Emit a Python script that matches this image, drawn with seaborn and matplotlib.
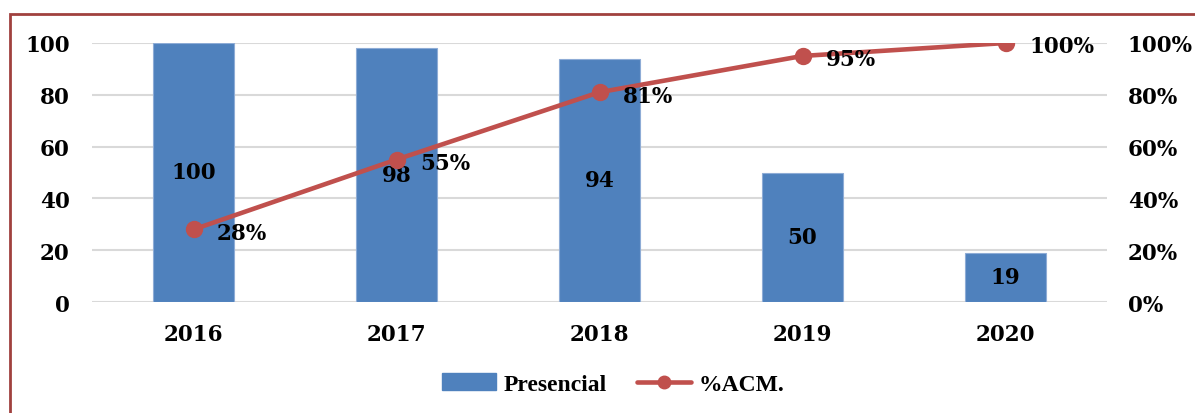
import matplotlib
matplotlib.use("Agg")
import matplotlib.pyplot as plt
import seaborn as sns
import pandas as pd
from matplotlib.patches import Rectangle
from matplotlib.lines import Line2D
from matplotlib.patches import Patch
from matplotlib.ticker import FuncFormatter, MultipleLocator

years = ["2016", "2017", "2018", "2019", "2020"]
presencial = [100, 98, 94, 50, 19]
acm = [0.28, 0.55, 0.81, 0.95, 1.00]
acm_labels = ["28%", "55%", "81%", "95%", "100%"]

df = pd.DataFrame({"year": years, "Presencial": presencial, "acm": acm})

sns.set_theme(style="white")
plt.rcParams["text.color"] = "black"
plt.rcParams["xtick.color"] = "black"
plt.rcParams["ytick.color"] = "black"
num_font = dict(family="DejaVu Serif", weight="bold", size=15.5)

fig = plt.figure(figsize=(11.95, 4.14), dpi=100)
ax = fig.add_axes([92/1195, 1-303/414, (1107-92)/1195, (303-44)/414])

bar_col = "#4F81BD"
line_col = "#C0504D"

sns.barplot(data=df, x="year", y="Presencial", ax=ax, color=bar_col,
            width=0.4, saturation=1, edgecolor="#8EACD6", linewidth=0.8, zorder=2)
ax.set_xlim(-0.5, 4.5)
ax.set_ylim(0, 100)
ax.yaxis.set_major_locator(MultipleLocator(20))
ax.grid(axis="y", color="#D9D9D9", linewidth=1.5, zorder=0)
ax.set_axisbelow(True)
for s in ax.spines.values():
    s.set_visible(False)
ax.set_xlabel("")
ax.set_ylabel("")
ax.tick_params(axis="both", length=0)
ax.tick_params(axis="x", pad=15)
ax.tick_params(axis="y", pad=16)
for lab in ax.get_xticklabels() + ax.get_yticklabels():
    lab.set_fontfamily("DejaVu Serif")
    lab.set_fontweight("bold")
    lab.set_fontsize(15.5)
    lab.set_color("black")
ax.bar_label(ax.containers[0], labels=[str(v) for v in presencial],
             label_type="center", color="black", **num_font)

ax2 = ax.twinx()
sns.pointplot(data=df, x="year", y="acm", ax=ax2, color=line_col,
              markers="o", linestyles="-", markersize=10, linewidth=3.3, zorder=5)
ax2.set_ylim(0, 1)
ax2.set_xlim(-0.5, 4.5)
ax2.yaxis.set_major_locator(MultipleLocator(0.2))
ax2.yaxis.set_major_formatter(FuncFormatter(lambda v, p: f"{v*100:.0f}%"))
for s in ax2.spines.values():
    s.set_visible(False)
ax2.set_ylabel("")
ax2.set_xlabel("")
ax2.grid(False)
ax2.tick_params(axis="y", length=0, pad=15)
for lab in ax2.get_yticklabels():
    lab.set_fontfamily("DejaVu Serif")
    lab.set_fontweight("bold")
    lab.set_fontsize(15.5)
    lab.set_color("black")
for i, (v, t) in enumerate(zip(acm, acm_labels)):
    ax2.annotate(t, (i, v), xytext=(17, -2.5), textcoords="offset points",
                 ha="left", va="center", color="black", zorder=6,
                 annotation_clip=False, **num_font)

handles = [Patch(facecolor=bar_col, edgecolor=bar_col),
           Line2D([0], [0], color=line_col, lw=3.3, marker="o", markersize=9)]
leg = fig.legend(handles, ["Presencial", "%ACM."], loc="center",
                 bbox_to_anchor=(0.513, 1-385/414), ncol=2, frameon=False,
                 prop=dict(family="Liberation Serif", weight="bold", size=17),
                 handlelength=2.3, handletextpad=0.3, columnspacing=1.3)
for t in leg.get_texts():
    t.set_color("black")

fig.patches.append(Rectangle((9.5/1195, -0.2), 1.2, 1.2 - 15/414,
                             transform=fig.transFigure, fill=False,
                             edgecolor="#A0413E", linewidth=2, clip_on=False))

fig.savefig("out.png", dpi=100)
